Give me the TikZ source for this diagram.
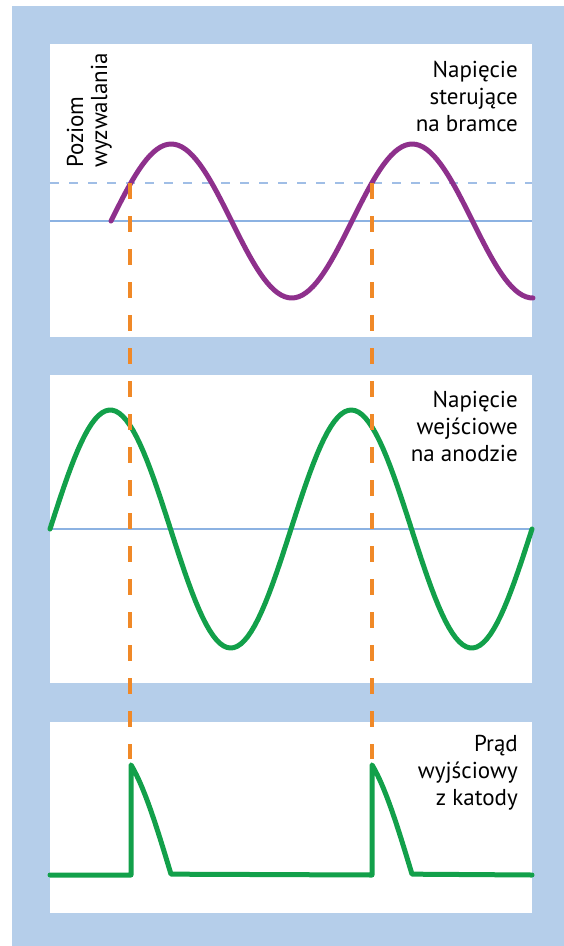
\documentclass[tikz,border=0pt]{standalone}
\usepackage{fontspec}
\setmainfont{PT Sans}
\definecolor{bgblue}{RGB}{181,206,234}
\definecolor{axisblue}{RGB}{140,178,226}
\definecolor{trigblue}{RGB}{160,190,230}
\definecolor{gatepurple}{RGB}{142,48,140}
\definecolor{anodegreen}{RGB}{18,160,74}
\definecolor{markorange}{RGB}{240,137,40}
\usetikzlibrary{positioning}

\begin{document}
\begin{tikzpicture}[x=1pt,y=-1pt,
    panel/.style={fill=white,draw=none},
    axisline/.style={axisblue,line width=1.8pt},
    triglevel/.style={trigblue,line width=1.8pt,dash pattern=on 9pt off 10pt},
    wave/.style={line width=5pt,line cap=round,line join=round},
    marker/.style={markorange,line width=3.5pt,dash pattern=on 16pt off 17pt},
    label/.style={font=\fontsize{23}{27}\selectfont,inner sep=0pt,align=right,anchor=north east}]
        \useasboundingbox (0,0) rectangle (564,946);
        \fill[white] (0,0) rectangle (564,946);
        \fill[bgblue] (12,6) rectangle (564,946);
        \fill[panel] (50,44) rectangle (532,337);
        \fill[panel] (50,375) rectangle (532,683);
        \fill[panel] (50,722) rectangle (532,913);
        \draw[axisline] (50,221) -- (532,221);
        \draw[triglevel] (50,183) -- (532,183);
        \draw[axisline] (50,529) -- (532,529);
        \draw[wave,gatepurple] plot[domain=111:533,samples=120] (\x,{221-77*sin((\x-111)/241*360)});
        \draw[wave,anodegreen] plot[domain=50:532,samples=140] (\x,{529-119*sin((\x-50)/241*360)});
        \draw[wave,anodegreen] (50,875) -- (131,875) -- (131,765)
            -- plot[domain=131:171,samples=15] (\x,{875-127*cos((\x-111)/241*360)})
            -- (372,875) -- (372,765)
            -- plot[domain=372:412,samples=15] (\x,{875-127*cos((\x-352)/241*360)})
            -- (532,875);
        \coordinate (trigA) at (130,183);
        \coordinate (trigB) at (372,183);
        \coordinate (pulseA) at (130,759);
        \coordinate (pulseB) at (372,759);
        \draw[marker] (trigA) -- (pulseA);
        \draw[marker] (trigB) -- (pulseB);
        \node[label] (gate) at (518,61) {Napięcie\\sterujące\\na bramce};
        \node[label] (anode) at (518,391) {Napięcie\\wejściowe\\na anodzie};
        \node[label] (cathode) at (518,735) {Prąd\\wyjściowy\\z katody};
        \node[font=\fontsize{23}{24}\selectfont,inner sep=0pt,align=left,rotate=90,anchor=south west] (level) at (112,168) {Poziom\\wyzwalania};
      \end{tikzpicture}
\end{document}
